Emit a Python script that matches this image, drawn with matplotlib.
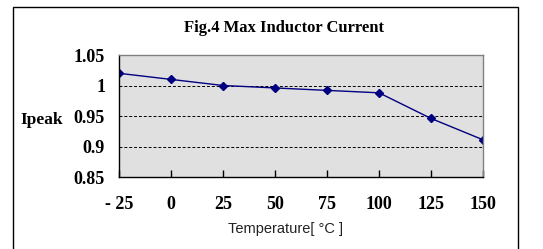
import matplotlib
matplotlib.use("Agg")
import matplotlib.pyplot as plt
from matplotlib.patches import Rectangle

# data
temps = [-25, 0, 25, 50, 75, 100, 125, 150]
tick_labels = ["- 25", "0", "25", "50", "75", "100", "125", "150"]
ipeak = [1.02, 1.01, 1.0, 0.996, 0.992, 0.988, 0.946, 0.911]
y_ticks = [0.85, 0.9, 0.95, 1.0, 1.05]
y_labels = ["0.85", "0.9", "0.95", "1", "1.05"]

W, H = 543, 249
fig = plt.figure(figsize=(W / 100, H / 100), dpi=100)
fig.patch.set_facecolor("white")

# outer chart border
fig.patches.append(Rectangle((13 / W, -0.05), (518 - 13) / W, 1 - 7 / H + 0.05,
                             transform=fig.transFigure, fill=False,
                             edgecolor="black", linewidth=1.0))

ax = fig.add_axes([119 / W, 1 - 177 / H, (483 - 119) / W, (177 - 55) / H])
ax.set_facecolor("#e0e0e0")
ax.plot(temps, ipeak, color="#000080", linewidth=1.0, marker="D",
        markersize=4.5, markerfacecolor="#000080", markeredgecolor="#000080")

ax.set_xlim(-25, 150)
ax.set_ylim(0.85, 1.05)
for yv in [0.9, 0.95, 1.0]:
    ax.axhline(yv, color="black", linestyle=(0, (3, 2)), linewidth=0.7, zorder=1)

ax.spines["top"].set_color("#808080")
ax.spines["right"].set_color("#808080")
ax.spines["left"].set_color("black")
ax.spines["bottom"].set_color("black")
for s in ax.spines.values():
    s.set_linewidth(1.0)

serif = {"family": "Liberation Serif", "weight": "bold", "size": 13}
ax.set_xticks(temps)
ax.set_xticklabels(tick_labels, fontdict=serif)
ax.set_yticks(y_ticks)
ax.set_yticklabels(y_labels, fontdict=serif)
ax.tick_params(axis="x", direction="in", length=5, pad=14, width=1)
ax.tick_params(axis="y", length=0, pad=10)

fig.text(20 / W, 1 - 120 / H, "Ipeak", ha="left", va="center",
         family="Liberation Serif", weight="bold", size=12.5)
fig.text(284 / W, 1 - 28 / H, "Fig.4 Max Inductor Current", ha="center",
         va="center", family="Liberation Serif", weight="bold", size=12)
fig.text(285 / W, 1 - 229 / H, "Temperature[ °C ]", ha="center", va="center",
         family="Liberation Sans", size=10.5, color="#222222")

plt.savefig("out.png", dpi=100)
